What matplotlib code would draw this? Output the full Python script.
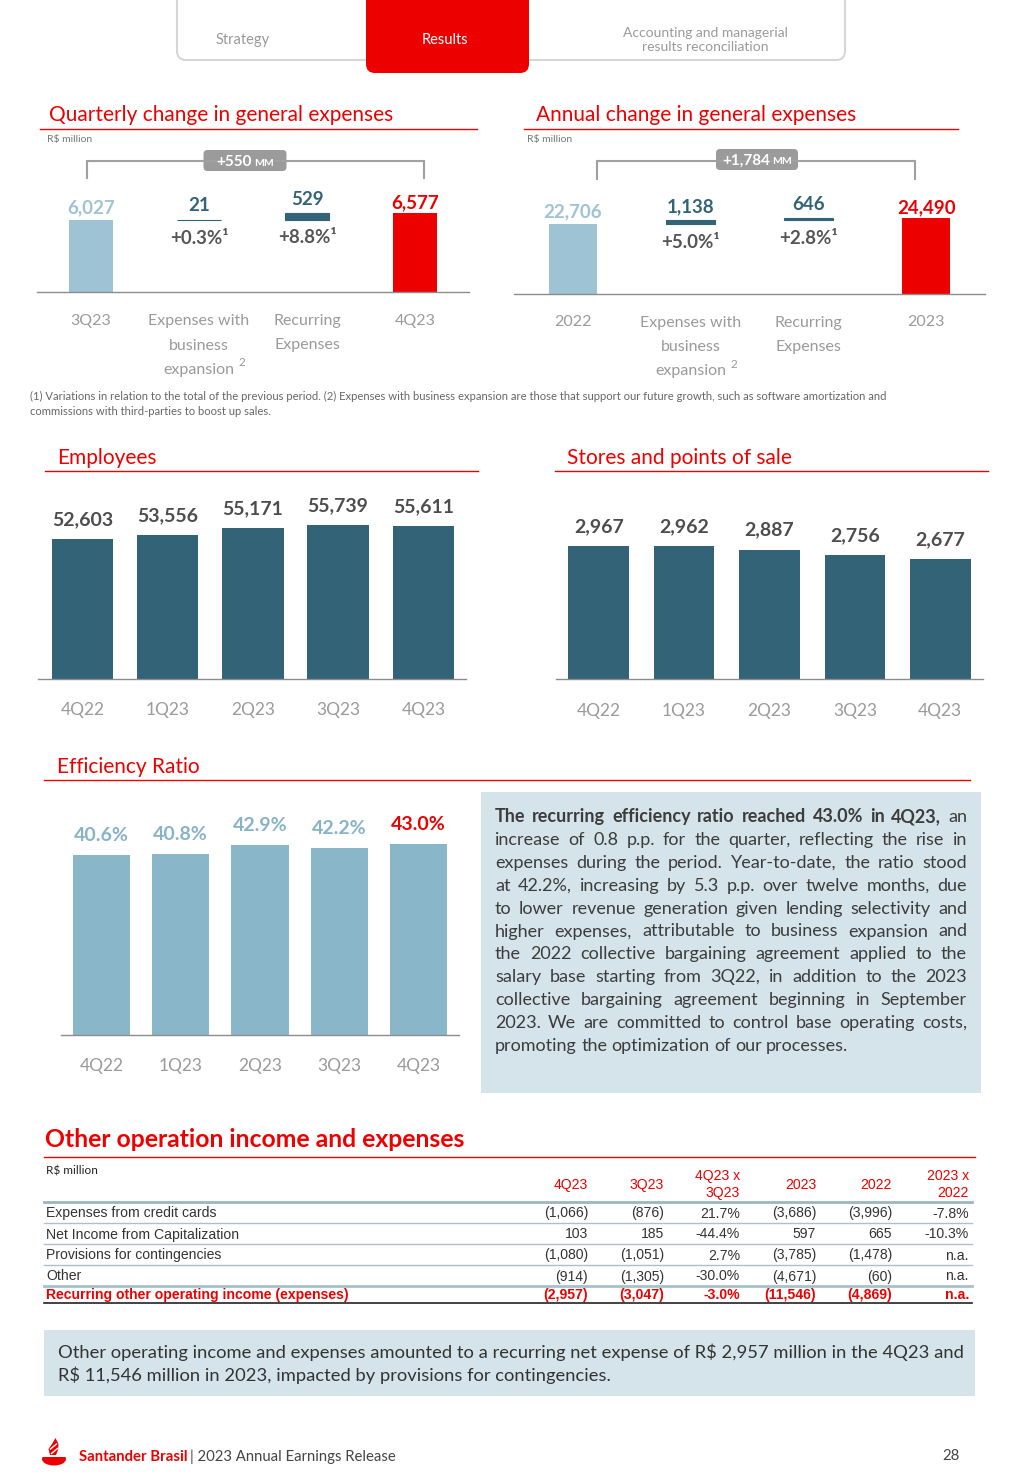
import matplotlib
matplotlib.use('Agg')
import numpy as np
import matplotlib.pyplot as plt
from matplotlib.patches import FancyBboxPatch, Rectangle, Ellipse, Polygon

plt.rcParams['font.family'] = ['Lato', 'DejaVu Sans']

# ---- data ----
q_cats = ['3Q23', 'Expenses with\nbusiness\nexpansion²', 'Recurring\nExpenses', '4Q23']
q_start, q_end = 6027, 6577
q_steps = [21, 529]
q_pct = ['+0.3%¹', '+8.8%¹']

a_cats = ['2022', 'Expenses with\nbusiness\nexpansion²', 'Recurring\nExpenses', '2023']
a_start, a_end = 22706, 24490
a_steps = [1138, 646]
a_pct = ['+5.0%¹', '+2.8%¹']

quarters = ['4Q22', '1Q23', '2Q23', '3Q23', '4Q23']
employees = [52603, 53556, 55171, 55739, 55611]
stores = [2967, 2962, 2887, 2756, 2677]
efficiency = [40.6, 40.8, 42.9, 42.2, 43.0]

table_cols = ['4Q23', '3Q23', '4Q23 x\n3Q23', '2023', '2022', '2023 x\n2022']
table_rows = ['Expenses from credit cards', 'Net Income from Capitalization',
              'Provisions for contingencies', 'Other',
              'Recurring other operating income (expenses)']
table_vals = [
    ['(1,066)', '(876)', '21.7%', '(3,686)', '(3,996)', '-7.8%'],
    ['103', '185', '-44.4%', '597', '665', '-10.3%'],
    ['(1,080)', '(1,051)', '2.7%', '(3,785)', '(1,478)', 'n.a.'],
    ['(914)', '(1,305)', '-30.0%', '(4,671)', '(60)', 'n.a.'],
    ['(2,957)', '(3,047)', '-3.0%', '(11,546)', '(4,869)', 'n.a.'],
]

eff_text = [
    'The recurring efficiency ratio reached 43.0% in 4Q23, an',
    'increase of 0.8 p.p. for the quarter, reflecting the rise in',
    'expenses during the period. Year-to-date, the ratio stood',
    'at 42.2%, increasing by 5.3 p.p. over twelve months, due',
    'to lower revenue generation given lending selectivity and',
    'higher expenses, attributable to business expansion and',
    'the 2022 collective bargaining agreement applied to the',
    'salary base starting from 3Q22, in addition to the 2023',
    'collective bargaining agreement beginning in September',
    '2023. We are committed to control base operating costs,',
    'promoting the optimization of our processes.',
]
eff_bold_words = 8

other_text = [
    'Other operating income and expenses amounted to a recurring net expense of R$ 2,957 million in the 4Q23 and',
    'R$ 11,546 million in 2023, impacted by provisions for contingencies.',
]

RED = '#EC0000'
TEAL = '#336376'
LIGHT = '#9DC3D4'
EFF = '#8AB6CA'
GRAY = '#9a9a9a'
DARK = '#4d4d4d'
BOXBG = '#D5E4EA'

W, H = 1021, 1481
fig = plt.figure(figsize=(W / 100, H / 100), dpi=100)
page = fig.add_axes([0, 0, 1, 1])
page.set_xlim(0, W)
page.set_ylim(H, 0)
page.axis('off')
renderer = fig.canvas.get_renderer()


def chart_ax(x0, y0, x1, y1):
    ax = fig.add_axes([x0 / W, 1 - y1 / H, (x1 - x0) / W, (y1 - y0) / H])
    ax.patch.set_alpha(0)
    return ax


def style(ax, labels, xlim, ylim, fs, pad, ls=1.2):
    ax.set_xlim(*xlim)
    ax.set_ylim(*ylim)
    for s in ['top', 'right', 'left']:
        ax.spines[s].set_visible(False)
    ax.spines['bottom'].set_color('#8c8c8c')
    ax.spines['bottom'].set_linewidth(1)
    ax.set_yticks([])
    ax.set_xticks(range(len(labels)))
    ax.set_xticklabels(labels, fontsize=fs, color=GRAY, linespacing=ls)
    ax.tick_params(axis='x', length=0, pad=pad)


def width_of(t):
    return t.get_window_extent(renderer).width


def title(x, y, s, x0, x1, ly, fs=15, weight='normal'):
    page.text(x, y, s, fontsize=fs, color=RED, fontweight=weight, va='baseline')
    page.plot([x0, x1], [ly, ly], color=RED, lw=1)


def chip(cx, cy, w, big, small):
    page.add_patch(FancyBboxPatch((cx - w / 2, cy - 10.5), w, 21,
                                  boxstyle='round,pad=0,rounding_size=4',
                                  fc='#9B9B9B', ec='none'))
    t1 = page.text(0, cy + 5, big, fontsize=11, fontweight='bold', color='white', va='baseline')
    t2 = page.text(0, cy + 5, small, fontsize=7.5, fontweight='bold', color='white', va='baseline')
    w1, w2 = width_of(t1), width_of(t2)
    tot = w1 + 2 + w2
    t1.set_x(cx - tot / 2)
    t2.set_x(cx - tot / 2 + w1 + 2)


def bracket(x0, x1, ytop, ybot):
    page.plot([x0, x0, x1, x1], [ybot, ytop, ytop, ybot], color='#a0a0a0', lw=1.5,
              solid_joinstyle='miter')


def cat_labels(ax, cats, first, step):
    # category names under the axis, one text per line, footnote mark as superscript
    trans = ax.get_xaxis_transform()
    for i, lab in enumerate(cats):
        for j, ln in enumerate(lab.split('\n')):
            sup = ln.endswith('²')
            ln = ln.rstrip('²')
            off = -(first + j * step) * 0.72
            t = ax.annotate(ln, (i, 0), xycoords=trans, xytext=(0, off),
                            textcoords='offset points', ha='center', va='baseline',
                            fontsize=11.5, color=GRAY)
            if sup:
                w = width_of(t) / 2 + 4
                ax.annotate('2', (i, 0), xycoords=trans, xytext=(w * 0.72, off + 5.5),
                            textcoords='offset points', ha='left', va='baseline',
                            fontsize=8.5, color=GRAY)


def waterfall(ax, cats, start, steps, end, pct, ylim, first):
    bw = 0.41
    ax.bar(0, start, bw, color=LIGHT)
    ax.annotate(f'{start:,}', (0, start), xytext=(0, 5), textcoords='offset points',
                ha='center', va='baseline', fontsize=13.5, fontweight='bold', color=LIGHT)
    bottom = start
    for i, s in enumerate(steps):
        ax.bar(i + 1, s, bw, bottom=bottom, color=TEAL, edgecolor=TEAL, linewidth=0.8)
        ax.annotate(f'{s:,}', (i + 1, bottom + s), xytext=(0, 6), textcoords='offset points',
                    ha='center', va='baseline', fontsize=13.5, fontweight='bold', color=TEAL)
        ax.annotate(pct[i], (i + 1, bottom), xytext=(0, -7), textcoords='offset points',
                    ha='center', va='top', fontsize=13.5, fontweight='bold', color='#555555')
        bottom += s
    n = len(steps) + 1
    ax.bar(n, end, bw, color=RED)
    ax.annotate(f'{end:,}', (n, end), xytext=(0, 4), textcoords='offset points',
                ha='center', va='baseline', fontsize=13.5, fontweight='bold', color=RED)
    style(ax, [''] * len(cats), (-0.5, 3.5), ylim, 11.5, 0)
    cat_labels(ax, cats, first, 24.5)


def simple_bars(ax, vals, labels, color, lab_colors, fmt, xlim, ylim, bw, pad):
    x = np.arange(len(vals))
    ax.bar(x, vals, bw, color=color)
    for i, v in enumerate(vals):
        ax.annotate(fmt(v), (i, v), xytext=(0, 10), textcoords='offset points',
                    ha='center', va='baseline', fontsize=14, fontweight='bold',
                    color=lab_colors[i])
    style(ax, labels, xlim, ylim, 12.5, pad)


# ---- top navigation ----
page.add_patch(FancyBboxPatch((177, -20), 668, 80, boxstyle='round,pad=0,rounding_size=9',
                              fc='white', ec='#d6d6d6', lw=1.5))
page.add_patch(FancyBboxPatch((366, -20), 163, 93, boxstyle='round,pad=0,rounding_size=9',
                              fc=RED, ec='none'))
page.text(243, 44, 'Strategy', fontsize=10.5, color=GRAY, ha='center', va='baseline')
page.text(445, 44, 'Results', fontsize=10.5, color='white', ha='center', va='baseline')
page.text(705, 37, 'Accounting and managerial', fontsize=10, color=GRAY, ha='center', va='baseline')
page.text(705, 51, 'results reconciliation', fontsize=10, color=GRAY, ha='center', va='baseline')

# ---- quarterly change ----
title(49, 121, 'Quarterly change in general expenses', 40, 477, 129)
page.text(47, 142, 'R$ million', fontsize=7.5, color='#777777', va='baseline')
bracket(87, 424, 161, 178)
chip(245, 160.5, 83, f'+{q_end - q_start:,}', 'MM')
ax1 = chart_ax(37, 150, 469, 292)
waterfall(ax1, q_cats, q_start, q_steps, q_end, q_pct, (0, 11890), 33)

# ---- annual change ----
title(536, 121, 'Annual change in general expenses', 524, 958, 129)
page.text(527, 142, 'R$ million', fontsize=7.5, color='#777777', va='baseline')
bracket(597, 915, 161, 179)
chip(757, 159.5, 82, f'+{a_end - a_start:,}', 'MM')
ax2 = chart_ax(514, 150, 985, 294)
waterfall(ax2, a_cats, a_start, a_steps, a_end, a_pct, (0, 46700), 32.5)

page.text(30, 400, '(1) Variations in relation to the total of the previous period. (2) Expenses with business '
          'expansion are those that support our future growth, such as software amortization and',
          fontsize=8.1, color='#666666', va='baseline')
page.text(30, 415, 'commissions with third-parties to boost up sales.', fontsize=8.1,
          color='#666666', va='baseline')

# ---- employees ----
title(57, 464, 'Employees', 45, 478, 471)
ax3 = chart_ax(38, 480, 466, 679)
simple_bars(ax3, employees, quarters, TEAL, [DARK] * 5, lambda v: f'{v:,}',
            (-0.52, 4.5), (20800, 66000), 0.72, 16.5)

# ---- stores ----
title(567, 464, 'Stores and points of sale', 555, 988, 471)
ax4 = chart_ax(556, 480, 983, 679)
simple_bars(ax4, stores, quarters, TEAL, [DARK] * 5, lambda v: f'{v:,}',
            (-0.5, 4.5), (0, 4440), 0.71, 17)

# ---- efficiency ----
title(57, 773, 'Efficiency Ratio', 44, 970, 780)
ax5 = chart_ax(61, 790, 459, 1035)
simple_bars(ax5, efficiency, quarters, EFF, ['#87B3C7'] * 4 + [RED], lambda v: f'{v:.1f}%',
            (-0.51, 4.51), (0, 55.2), 0.72, 16.5)

page.add_patch(Rectangle((481, 792), 500, 301, fc=BOXBG, ec='none'))
x0, x1 = 495, 967
k = 0
for i, line in enumerate(eff_text):
    y = 822 + 22.9 * i
    words = line.split()
    arts = []
    for w in words:
        wt = 'bold' if k < eff_bold_words else 'normal'
        arts.append(page.text(0, y, w, fontsize=13, fontweight=wt, color='#3c3c3c', va='baseline'))
        k += 1
    widths = [width_of(t) for t in arts]
    if i == len(eff_text) - 1:
        gap = 4.4
    else:
        gap = max((x1 - x0 - sum(widths)) / (len(words) - 1), 2)
    x = x0
    for t, w in zip(arts, widths):
        t.set_x(x)
        x += w + gap

# ---- other operating income table ----
title(45, 1147, 'Other operation income and expenses', 44, 975, 1157, fs=17.8, weight='bold')
page.text(46, 1174, 'R$ million', fontsize=8.5, color='#222222', va='baseline')
col_x = [588, 664, 740, 816, 892, 969]
TF = 10.1
for cx, c in zip(col_x, table_cols):
    parts = c.split('\n')
    if len(parts) == 1:
        page.text(cx, 1189, c, fontsize=TF, color=RED, ha='right', va='baseline',
                  family='Liberation Sans')
    else:
        for j, p in enumerate(parts):
            page.text(cx, 1180 + 17 * j, p, fontsize=TF, color=RED, ha='right', va='baseline',
                      family='Liberation Sans')
page.plot([44, 972], [1202, 1202], color='#9BB5C2', lw=2)
row_base = [1217.5, 1238.5, 1259.5, 1280.5, 1299]
for r, (name, vals) in enumerate(zip(table_rows, table_vals)):
    total = r == len(table_rows) - 1
    col = RED if total else '#333333'
    wt = 'bold' if total else 'normal'
    page.text(46, row_base[r], name, fontsize=TF, color=col, fontweight=wt, va='baseline',
              family='Liberation Sans')
    for cx, v in zip(col_x, vals):
        page.text(cx, row_base[r], v, fontsize=TF, color=col, fontweight=wt, ha='right',
                  va='baseline', family='Liberation Sans')
for y, lw in zip([1223, 1244, 1265, 1285.5], [1, 1, 1, 2]):
    page.plot([44, 972], [y, y], color='#A9C1CC', lw=lw)
page.plot([44, 972], [1303, 1303], color='#222222', lw=1.2)

page.add_patch(Rectangle((44, 1330), 931, 66, fc=BOXBG, ec='none'))
for i, s in enumerate(other_text):
    page.text(58, 1358 + 23 * i, s, fontsize=13.2, color='#333333', va='baseline')

# ---- footer ----
page.add_patch(Ellipse((54, 1459), 24, 13, fc=RED, ec='none'))
page.add_patch(Rectangle((41, 1450), 27, 7, fc='white', ec='none'))
page.add_patch(Polygon([(50, 1455), (48.5, 1449), (52, 1444), (55.5, 1438), (58.5, 1444),
                        (58, 1450), (56, 1455)], closed=True, fc=RED, ec='none'))
page.plot([50.5, 56.5], [1449, 1444], color='white', lw=1)
page.plot([51.5, 57.5], [1453.5, 1448.5], color='white', lw=1)
t = page.text(79, 1461, 'Santander Brasil', fontsize=10.7, fontweight='bold', color=RED, va='baseline')
wf = width_of(t)
page.text(79 + wf + 2, 1461, '| 2023 Annual Earnings Release', fontsize=10.7, color='#444444',
          va='baseline')
page.text(960, 1460, '28', fontsize=10.7, color='#444444', ha='right', va='baseline')

fig.savefig('out.png', dpi=100)
